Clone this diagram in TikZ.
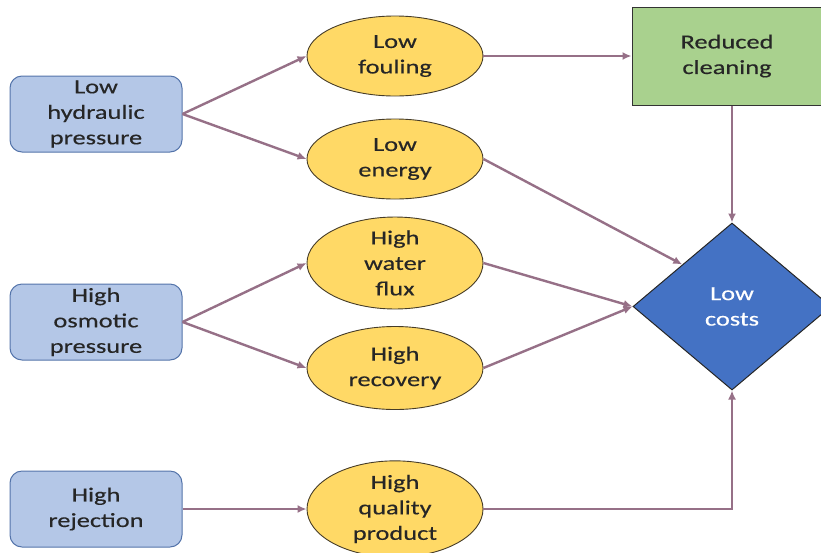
\documentclass[tikz,border=0pt]{standalone}
\usepackage{fontspec}
\setmainfont[FakeStretch=1.32,FakeBold=0.35]{Carlito}
\usetikzlibrary{shapes.geometric,arrows.meta,calc}
\definecolor{srcfill}{RGB}{180,199,231}
\definecolor{srcdraw}{RGB}{84,116,170}
\definecolor{ellfill}{RGB}{255,217,102}
\definecolor{elldraw}{RGB}{70,60,40}
\definecolor{grnfill}{RGB}{169,209,142}
\definecolor{dmdfill}{RGB}{68,114,196}
\definecolor{linkcol}{RGB}{150,112,135}
\definecolor{txtcol}{RGB}{38,38,38}
\tikzset{
  every node/.style={font=\fontsize{20}{25.5}\selectfont, text=txtcol, align=center},
  srcbox/.style={draw=srcdraw, fill=srcfill, rounded corners=12pt, line width=1pt,
                 minimum width=172pt, minimum height=76pt, inner sep=0pt},
  effect/.style={ellipse, draw=elldraw, fill=ellfill, line width=0.9pt,
                 minimum width=176pt, minimum height=80pt, inner sep=0pt},
  goalbox/.style={draw=black!80, fill=grnfill, line width=1pt,
                  minimum width=190pt, minimum height=98pt, inner sep=0pt},
  costnode/.style={diamond, draw=black!85, fill=dmdfill, line width=1pt, text=white,
                   minimum width=198pt, minimum height=167pt, inner sep=0pt},
  link/.style={draw=linkcol, line width=2.4pt, -{Latex[length=9pt,width=8pt]}}
}
\begin{document}
\begin{tikzpicture}[x=1pt,y=-1pt]
\useasboundingbox (0,0) rectangle (821,552);
\clip (0,0) rectangle (821,552);

% causes
\node[srcbox] (hyd) at (96,114) {Low\\hydraulic\\pressure};
\node[srcbox] (osm) at (96,322) {High\\osmotic\\pressure};
\node[srcbox] (rej) at (96,509) {High\\rejection};

% effects
\node[effect] (foul) at (395,56) {Low\\fouling};
\node[effect] (ener) at (395,159) {Low\\energy};
\node[effect, minimum height=83pt] (flux) at (395,263) {High\\water\\flux};
\node[effect, minimum height=83pt] (reco) at (395,368) {High\\recovery};
\node[effect, minimum height=86pt] (qual) at (395,509) {High\\quality\\product};

% outcomes
\node[goalbox] (clean) at (727,56) {Reduced\\cleaning};
\node[costnode] (cost) at (732,306.5) {Low\\costs};

% connectors
\draw[link] (hyd.east) -- (foul.west);
\draw[link] (hyd.east) -- (ener.west);
\draw[link] (osm.east) -- (flux.west);
\draw[link] (osm.east) -- (reco.west);
\draw[link] (rej.east) -- (qual.west);
\draw[link] (foul.east) -- (clean.west);
\draw[link] (clean.south -| cost.north) -- (cost.north);
\draw[link] (ener.east) -- ($(cost.north)!0.5!(cost.west)$);
\draw[link] (flux.east) -- (cost.west);
\draw[link] (reco.east) -- (cost.west);
\draw[link] (qual.east) -| (cost.south);
\end{tikzpicture}
\end{document}
